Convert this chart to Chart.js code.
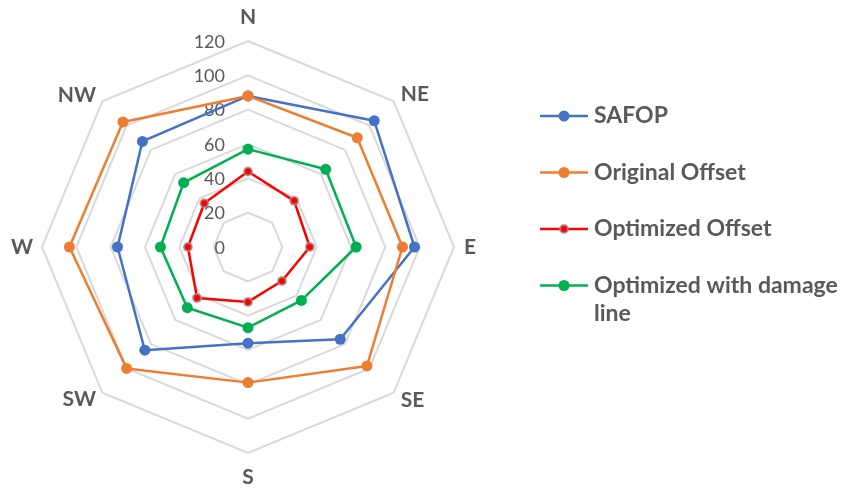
<!DOCTYPE html>
<html>
<head>
<meta charset="utf-8">
<script src="https://cdn.jsdelivr.net/npm/chart.js@4/dist/chart.umd.min.js"></script>
<style>
  html, body { margin: 0; padding: 0; background: #ffffff; }
  #wrap { position: relative; width: 843px; height: 491px; }
</style>
</head>
<body>
<div id="wrap"><canvas id="radar" width="843" height="491"></canvas></div>
<script>
// Compass directions around the radar
const directions = ['N', 'NE', 'E', 'SE', 'S', 'SW', 'W', 'NW'];

// Series values, one per direction
const safop           = [88, 104, 97, 76, 56, 85, 76, 87];
const originalOffset  = [88, 90, 90, 98, 79, 100, 104, 103];
const optimizedOffset = [44, 38, 36, 28, 32, 42, 35, 36];
const optimizedDamage = [57, 64, 63, 44, 47, 50, 51, 53];

// Series names
const seriesNames = ['SAFOP', 'Original Offset', 'Optimized Offset', 'Optimized with damage line'];

// Radial axis range
const axisMin = 0;
const axisMax = 120;
const axisStep = 20;

const FONT = "Lato, 'Open Sans', 'Liberation Sans', sans-serif";
const TEXT_GREY = '#595959';

// Tick labels sit just left of the vertical axis, at each ring
const tickLabelPlugin = {
  id: 'tickLabels',
  beforeDatasetsDraw(chart) {
    const r = chart.scales.r;
    const ctx = chart.ctx;
    ctx.save();
    ctx.font = '18px ' + FONT;
    ctx.fillStyle = TEXT_GREY;
    ctx.textAlign = 'right';
    ctx.textBaseline = 'middle';
    r.ticks.forEach(t => {
      const d = r.getDistanceFromCenterForValue(t.value);
      ctx.fillText(String(t.value), r.xCenter - 23, r.yCenter - d + 1);
    });
    ctx.restore();
  }
};

// Direction labels around the outer ring
const directionLabelPlugin = {
  id: 'directionLabels',
  afterDraw(chart) {
    const r = chart.scales.r;
    const ctx = chart.ctx;
    ctx.save();
    ctx.font = 'bold 21px ' + FONT;
    ctx.fillStyle = TEXT_GREY;
    ctx.textBaseline = 'middle';
    chart.data.labels.forEach((lab, i) => {
      const angle = ((r.getIndexAngle(i) * 180 / Math.PI) % 360 + 360) % 360;
      let p;
      if (angle < 1 || angle > 359) {
        p = r.getPointPosition(i, r.drawingArea + 24);
        ctx.textAlign = 'center';
      } else if (Math.abs(angle - 180) < 1) {
        p = r.getPointPosition(i, r.drawingArea + 24);
        ctx.textAlign = 'center';
      } else if (angle < 180) {
        p = r.getPointPosition(i, r.drawingArea + 10);
        ctx.textAlign = 'left';
      } else {
        p = r.getPointPosition(i, r.drawingArea + 9);
        ctx.textAlign = 'right';
      }
      ctx.fillText(lab, p.x, p.y);
    });
    ctx.restore();
  }
};

// Legend on the right: line with marker, then wrapped bold name
const sideLegendPlugin = {
  id: 'sideLegend',
  afterDraw(chart, args, opts) {
    const ctx = chart.ctx;
    ctx.save();
    ctx.font = 'bold ' + opts.fontSize + 'px ' + FONT;
    ctx.textBaseline = 'middle';
    ctx.textAlign = 'left';
    chart.data.datasets.forEach((ds, i) => {
      const y = opts.top + i * opts.rowGap;
      ctx.strokeStyle = ds.borderColor;
      ctx.lineWidth = 2.5;
      ctx.beginPath();
      ctx.moveTo(opts.x, y);
      ctx.lineTo(opts.x + opts.lineLen, y);
      ctx.stroke();
      const mx = opts.x + opts.lineLen / 2;
      ctx.beginPath();
      ctx.arc(mx, y, ds.pointRadius, 0, Math.PI * 2);
      ctx.fillStyle = ds.pointBackgroundColor;
      ctx.fill();
      if (ds.pointBorderWidth > 0) {
        ctx.lineWidth = ds.pointBorderWidth;
        ctx.strokeStyle = ds.pointBorderColor;
        ctx.stroke();
      }
      // word wrap
      ctx.fillStyle = TEXT_GREY;
      const tx = opts.x + opts.lineLen + opts.gap;
      const maxW = opts.maxWidth;
      const words = ds.label.split(' ');
      const lines = [];
      let cur = '';
      words.forEach(w => {
        const test = cur ? cur + ' ' + w : w;
        if (ctx.measureText(test).width > maxW && cur) {
          lines.push(cur);
          cur = w;
        } else {
          cur = test;
        }
      });
      lines.push(cur);
      lines.forEach((ln, k) => ctx.fillText(ln, tx, y + k * opts.lineHeight));
    });
    ctx.restore();
  }
};

function series(label, data, color, order, extra) {
  return Object.assign({
    label: label,
    data: data,
    borderColor: color,
    backgroundColor: color,
    pointBackgroundColor: color,
    pointBorderColor: color,
    pointBorderWidth: 0,
    pointRadius: 5.5,
    pointHoverRadius: 5.5,
    borderWidth: 2.5,
    borderJoinStyle: 'round',
    fill: false,
    tension: 0,
    order: order
  }, extra || {});
}

new Chart(document.getElementById('radar'), {
  type: 'radar',
  data: {
    labels: directions,
    datasets: [
      series(seriesNames[0], safop, '#4472C4', 4),
      series(seriesNames[1], originalOffset, '#ED7D31', 3),
      series(seriesNames[2], optimizedOffset, '#FF0000', 2, {
        pointRadius: 4,
        pointHoverRadius: 4,
        pointBorderWidth: 2,
        pointBorderColor: 'rgba(150,150,150,0.75)'
      }),
      series(seriesNames[3], optimizedDamage, '#00B050', 1)
    ]
  },
  options: {
    responsive: false,
    animation: false,
    devicePixelRatio: 1,
    layout: { padding: { left: 42, right: 389, top: 41, bottom: 38 } },
    plugins: {
      legend: { display: false },
      tooltip: { enabled: false },
      sideLegend: { x: 540, top: 116, rowGap: 56.5, lineLen: 48, gap: 6, fontSize: 23, lineHeight: 28, maxWidth: 249 }
    },
    scales: {
      r: {
        min: axisMin,
        max: axisMax,
        ticks: { stepSize: axisStep, display: false },
        grid: { color: '#D9D9D9', lineWidth: 2 },
        angleLines: { display: false },
        pointLabels: { display: false }
      }
    }
  },
  plugins: [tickLabelPlugin, directionLabelPlugin, sideLegendPlugin]
});
</script>
</body>
</html>
